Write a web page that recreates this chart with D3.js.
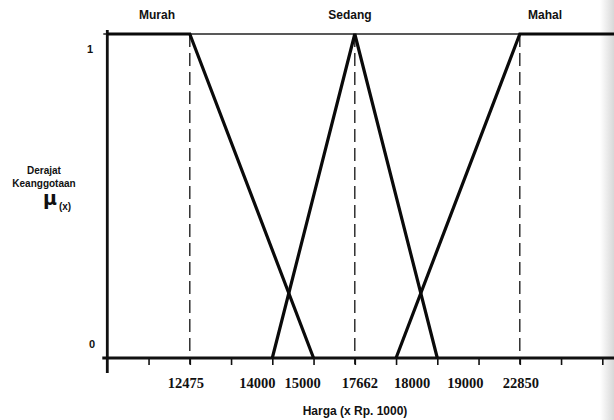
<!DOCTYPE html>
<html>
<head>
<meta charset="utf-8">
<script src="https://cdn.jsdelivr.net/npm/d3@7"></script>
<style>
  html, body { margin: 0; padding: 0; background: #fff; }
  svg { display: block; }
</style>
</head>
<body>
<svg id="chart" width="614" height="420"></svg>
<script>
// ---- data ----
const categories = ["Murah", "Sedang", "Mahal"];
const hargaTicks = [12475, 14000, 15000, 17662, 18000, 19000, 22850];
const tickLabels = ["12475", "14000", "15000", "17662", "18000", "19000", "22850"];
const tickSlots = [2, 4, 5, 6, 7, 8, 10];          // slot on the evenly spaced axis
const slotCount = 12;
// membership points: [harga, mu]; "min"/"max" = open ends of the axis
const murah  = [["min", 1], [12475, 1], [15000, 0]];
const sedang = [[14000, 0], [17662, 1], [19000, 0]];
const mahal  = [[18000, 0], [22850, 1], ["max", 1]];
const peaks  = [12475, 17662, 22850];
const yTicks = [0, 1];

// ---- layout ----
const svg = d3.select("#chart");
const slotX = d3.scaleLinear().domain([0, slotCount]).range([107.3, 602.3]);
const x = d3.scaleLinear().domain(hargaTicks).range(tickSlots.map(slotX));
const y = d3.scaleLinear().domain([0, 1]).range([358, 34]);
const xMin = slotX(0), xMax = 614;
const px = v => v === "min" ? xMin : v === "max" ? xMax : x(v);
const labelDx = [-4, -15, -11, 5, 16, 28, 1];

// background scan edge
const grad = svg.append("defs").append("linearGradient").attr("id", "edge")
  .attr("x1", 0).attr("x2", 1);
grad.append("stop").attr("offset", 0).attr("stop-color", "#fff");
grad.append("stop").attr("offset", 1).attr("stop-color", "#d8d8d8");
svg.append("rect").attr("x", 600).attr("y", 0).attr("width", 14).attr("height", 420)
  .attr("fill", "url(#edge)");

// thin line at mu = 1
svg.append("line")
  .attr("x1", xMin - 4).attr("x2", xMax)
  .attr("y1", y(1)).attr("y2", y(1))
  .attr("stroke", "#222").attr("stroke-width", 1.5);

// dashed verticals at peaks
svg.selectAll("line.dash").data(peaks).join("line")
  .attr("class", "dash")
  .attr("x1", d => x(d)).attr("x2", d => x(d))
  .attr("y1", y(1)).attr("y2", y(0) + 6)
  .attr("stroke", "#222").attr("stroke-width", 1.4)
  .attr("stroke-dasharray", "13,6");

// x axis
const xAxis = d3.axisBottom(slotX)
  .tickValues(d3.range(1, slotCount + 1))
  .tickSize(7).tickFormat("");
const gx = svg.append("g").attr("transform", `translate(0,${y(0)})`).call(xAxis);
gx.select(".domain").remove();
gx.selectAll(".tick line").attr("stroke", "#111").attr("stroke-width", 1.6);
svg.append("line")
  .attr("x1", xMin - 5).attr("x2", xMax)
  .attr("y1", y(0)).attr("y2", y(0))
  .attr("stroke", "#111").attr("stroke-width", 2.8);

// y axis
svg.append("line")
  .attr("x1", xMin).attr("x2", xMin)
  .attr("y1", y(1) - 4).attr("y2", y(0) + 15)
  .attr("stroke", "#111").attr("stroke-width", 2.8);

// tick labels
svg.selectAll("text.xt").data(hargaTicks).join("text")
  .attr("class", "xt")
  .attr("x", (d, i) => x(d) + labelDx[i])
  .attr("y", 388)
  .attr("text-anchor", "middle")
  .attr("font-family", "Liberation Serif, serif")
  .attr("font-weight", "bold")
  .attr("font-size", 14.5)
  .attr("fill", "#111")
  .text((d, i) => tickLabels[i]);

svg.selectAll("text.yt").data(yTicks).join("text")
  .attr("class", "yt")
  .attr("x", d => d === 1 ? 90 : 92)
  .attr("y", d => d === 1 ? y(d) + 19 : y(d) - 10)
  .attr("text-anchor", "middle")
  .attr("font-family", "Liberation Sans, Arial, sans-serif")
  .attr("font-weight", "bold")
  .attr("font-size", 11)
  .attr("fill", "#111")
  .text(d => d);

// membership functions
const line = d3.line().x(d => px(d[0])).y(d => y(d[1]));
svg.selectAll("path.mf").data([murah, sedang, mahal]).join("path")
  .attr("class", "mf")
  .attr("d", line)
  .attr("fill", "none")
  .attr("stroke", "#0a0a0a")
  .attr("stroke-width", 3.2)
  .attr("stroke-linejoin", "miter");

// category labels
const catX = [157, 350, 545];
svg.selectAll("text.cat").data(categories).join("text")
  .attr("class", "cat")
  .attr("x", (d, i) => catX[i])
  .attr("y", 19)
  .attr("text-anchor", "middle")
  .attr("font-family", "Liberation Sans, Arial, sans-serif")
  .attr("font-weight", "bold")
  .attr("font-size", 12)
  .attr("fill", "#111")
  .text(d => d);

// y title
const yt = svg.append("g").attr("font-family", "Liberation Sans, Arial, sans-serif")
  .attr("font-weight", "bold").attr("fill", "#111").attr("text-anchor", "middle");
yt.append("text").attr("x", 44).attr("y", 174).attr("font-size", 10).text("Derajat");
yt.append("text").attr("x", 44).attr("y", 187).attr("font-size", 10).text("Keanggotaan");
yt.append("text").attr("x", 50).attr("y", 205).attr("font-size", 19)
  .attr("font-family", "DejaVu Sans, sans-serif").text("μ");
yt.append("text").attr("x", 65).attr("y", 210).attr("font-size", 10).text("(x)");

// x title
svg.append("text")
  .attr("x", 355).attr("y", 415)
  .attr("text-anchor", "middle")
  .attr("font-family", "Liberation Sans, Arial, sans-serif")
  .attr("font-weight", "bold")
  .attr("font-size", 12)
  .attr("fill", "#111")
  .text("Harga (x Rp. 1000)");
</script>
</body>
</html>
